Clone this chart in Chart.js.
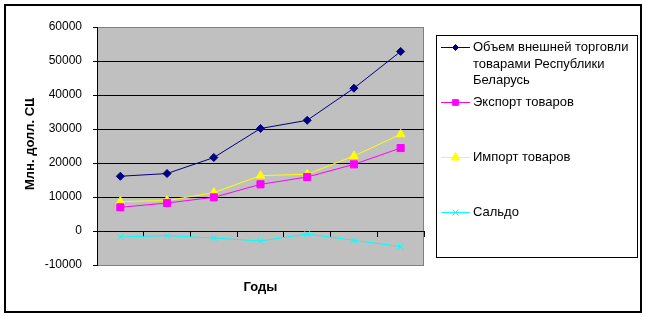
<!DOCTYPE html>
<html>
<head>
<meta charset="utf-8">
<script src="https://cdn.jsdelivr.net/npm/chart.js@4"></script>
<style>
  body { margin: 0; background: #fff; }
  canvas { display: block; }
</style>
</head>
<body>
<canvas id="myChart" width="646" height="317"></canvas>
<script>
// years are not printed in the picture, so just the seven points
const categories = ["1", "2", "3", "4", "5", "6", "7"];
const totalTrade = [16100, 16900, 21600, 30150, 32560, 42000, 52800];
const exportGoods = [6970, 8240, 9900, 13730, 15880, 19600, 24400];
const importGoods = [8650, 8940, 11290, 16290, 16680, 22060, 28440];
const saldo = [-1760, -1370, -2060, -2940, -880, -2740, -4590];

const seriesNames = [
  ["Объем внешней торговли", "товарами Республики", "Беларусь"],
  ["Экспорт товаров"],
  ["Импорт товаров"],
  ["Сальдо"],
];

const FONT = "'Liberation Sans', Arial, sans-serif";
const COLORS = {
  navy: "#000080",
  magenta: "#ff00ff",
  yellow: "#ffff00",
  cyan: "#00ffff",
};

const ctx = document.getElementById("myChart").getContext("2d");

// gray plot area + frame around the whole picture
const backdrop = {
  id: "backdrop",
  beforeDraw(chart) {
    const c = chart.ctx;
    const a = chart.chartArea;
    c.save();
    c.fillStyle = "#fff";
    c.fillRect(0, 0, chart.width, chart.height);
    c.strokeStyle = "#000";
    c.lineWidth = 2;
    c.strokeRect(5, 5, 636, 307);
    c.fillStyle = "#c0c0c0";
    c.fillRect(a.left, a.top, a.right - a.left, a.bottom - a.top);
    c.strokeStyle = "#808080";
    c.lineWidth = 1;
    c.strokeRect(a.left + 0.5, a.top + 0.5, a.right - a.left - 1, a.bottom - a.top);
    c.restore();
  },
};

// axis titles and the boxed legend on the right
const extras = {
  id: "extras",
  afterDraw(chart) {
    const c = chart.ctx;
    const a = chart.chartArea;
    c.save();
    c.fillStyle = "#000";
    c.font = "bold 13px " + FONT;
    c.textAlign = "center";
    c.textBaseline = "middle";
    c.fillText("Годы", (a.left + a.right) / 2, 287);

    c.save();
    c.beginPath();
    c.rect(0, 98, 60, 200);
    c.clip();
    c.translate(30, 190);
    c.rotate(-Math.PI / 2);
    c.textAlign = "left";
    c.fillText("Млн. долл. США", 0, 0);
    c.restore();

    c.strokeStyle = "#000";
    c.lineWidth = 1;
    c.strokeRect(436.5, 35.5, 201, 222);

    const rows = [47.5, 102.5, 157.5, 212.5];
    c.font = "13px " + FONT;
    c.textAlign = "left";
    chart.data.datasets.forEach((ds, i) => {
      const y = rows[i];
      c.strokeStyle = ds.borderColor;
      c.fillStyle = ds.borderColor;
      c.lineWidth = 1;
      c.beginPath();
      c.moveTo(441, y);
      c.lineTo(470, y);
      c.stroke();
      Chart.helpers.drawPoint(c, {
        pointStyle: ds.pointStyle,
        radius: ds.legendRadius,
        borderWidth: 1,
      }, 455.5, y);
      c.fillStyle = "#000";
      seriesNames[i].forEach((line, k) => {
        c.fillText(line, 473, y + k * 16.5);
      });
    });
    c.restore();
  },
};

function makeSet(label, data, color, style, radius, legendRadius) {
  return {
    label: label,
    data: data,
    borderColor: color,
    backgroundColor: color,
    borderWidth: 1,
    pointStyle: style,
    pointRadius: radius,
    pointBorderWidth: 1,
    pointBorderColor: color,
    pointBackgroundColor: color,
    legendRadius: legendRadius,
    tension: 0,
  };
}

const newChart = new Chart(ctx, {
  type: "line",
  data: {
    labels: categories,
    datasets: [
      makeSet(seriesNames[0].join(" "), totalTrade, COLORS.navy, "rectRot", 4, 3),
      makeSet(seriesNames[1][0], exportGoods, COLORS.magenta, "rect", 5, 4),
      makeSet(seriesNames[2][0], importGoods, COLORS.yellow, "triangle", 5, 5),
      makeSet(seriesNames[3][0], saldo, COLORS.cyan, "crossRot", 4, 4),
    ],
  },
  options: {
    responsive: false,
    animation: false,
    devicePixelRatio: 1,
    layout: {
      padding: { left: 0, top: 27, right: 222, bottom: 52 },
    },
    plugins: {
      legend: { display: false },
      tooltip: { enabled: false },
    },
    scales: {
      x: {
        type: "category",
        offset: true,
        position: { y: 0 },
        ticks: { display: false },
        grid: {
          offset: true,
          drawOnChartArea: false,
          drawTicks: true,
          tickLength: 5,
          color: "#000",
        },
        border: { display: true, color: "#000", width: 1 },
      },
      y: {
        min: -10000,
        max: 60000,
        afterFit: (s) => { s.width = 97; },
        ticks: {
          stepSize: 10000,
          color: "#000",
          padding: 11,
          font: { family: FONT, size: 12 },
          callback: (v) => String(v),
        },
        grid: {
          color: (c) => (c.tick && (c.tick.value === 60000 || c.tick.value === -10000)) ? "#808080" : "#000",
          tickColor: "#000",
          tickLength: 4,
          lineWidth: 1,
        },
        border: { display: true, color: "#000", width: 1 },
      },
    },
  },
  plugins: [backdrop, extras],
});
</script>
</body>
</html>
